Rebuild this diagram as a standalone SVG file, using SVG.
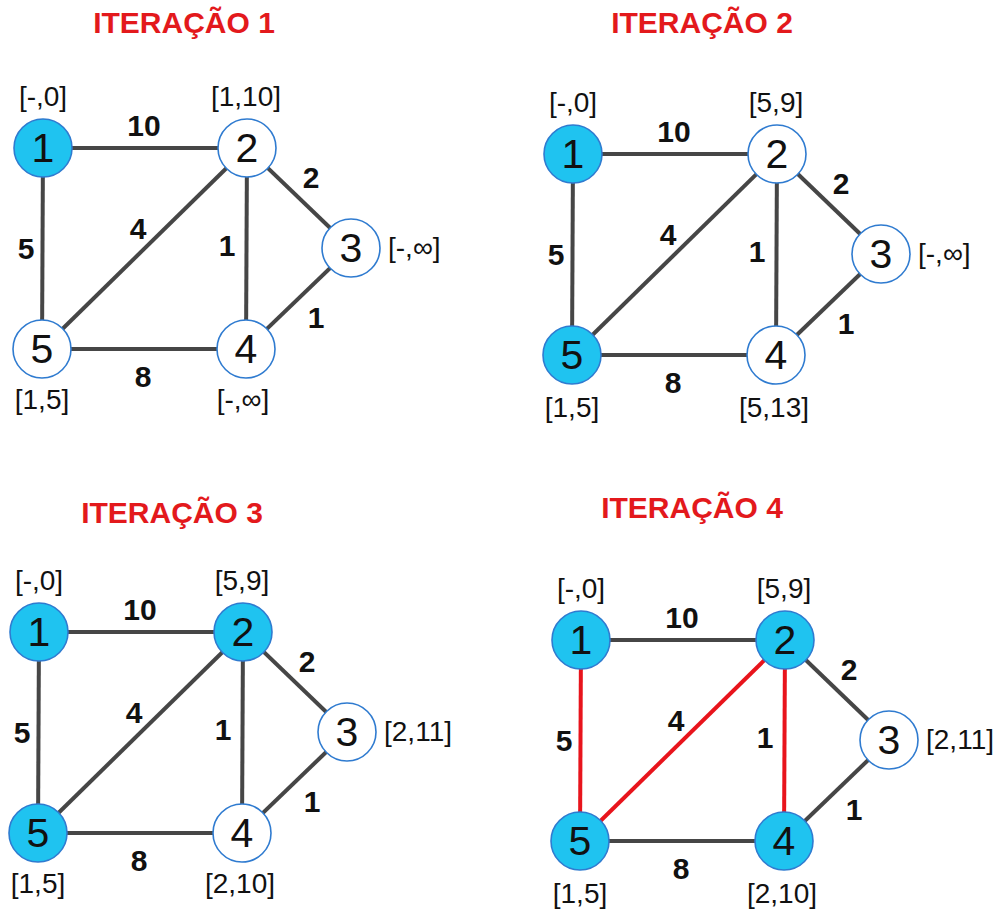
<svg xmlns="http://www.w3.org/2000/svg" width="1003" height="911" viewBox="0 0 1003 911">
<style>
.bg{fill:#ffffff}
.title{font-family:"Liberation Sans",Arial,sans-serif;font-weight:bold;font-size:30px;fill:#e3191c;text-anchor:middle}
.e{stroke:#464646;stroke-width:4;stroke-linecap:butt}
.r{stroke:#e8141c;stroke-width:4}
text.w{font-family:"Liberation Sans",Arial,sans-serif;font-weight:bold;font-size:30px;fill:#111;text-anchor:middle}
.n{stroke:#2f7bd0;stroke-width:1.6;fill:#ffffff}
.f{fill:#1fc3f0}
.num{font-family:"Liberation Sans",Arial,sans-serif;font-size:41px;fill:#111;text-anchor:middle}
.lb{font-family:"Liberation Sans",Arial,sans-serif;font-size:28px;fill:#111;text-anchor:middle}
.ls{text-anchor:start}
</style>
<rect class="bg" x="0" y="0" width="1003" height="911"/>

<text class="title" x="184" y="33">ITERAÇÃO 1</text>
<text class="title" x="702" y="33">ITERAÇÃO 2</text>
<text class="title" x="172" y="523">ITERAÇÃO 3</text>
<text class="title" x="692" y="518">ITERAÇÃO 4</text>

<!-- Iteration 1 -->
<g id="it1">
<g id="it1-edges">
<line class="e" x1="43" y1="148" x2="247" y2="148"/>
<line class="e" x1="43" y1="148" x2="42" y2="349"/>
<line class="e" x1="42" y1="349" x2="247" y2="148"/>
<line class="e" x1="247" y1="148" x2="246" y2="349"/>
<line class="e" x1="247" y1="148" x2="351" y2="248"/>
<line class="e" x1="351" y1="248" x2="246" y2="349"/>
<line class="e" x1="42" y1="349" x2="246" y2="349"/>
<text class="w" x="144" y="136">10</text>
<text class="w" x="311" y="188">2</text>
<text class="w" x="138" y="239">4</text>
<text class="w" x="227" y="256">1</text>
<text class="w" x="26" y="259">5</text>
<text class="w" x="316" y="328">1</text>
<text class="w" x="143" y="387">8</text>
</g>
<g id="it1-n1"><circle class="n f" cx="43" cy="148" r="29"/><text class="num" x="43" y="162">1</text><text class="lb" x="43" y="106">[-,0]</text></g>
<g id="it1-n2"><circle class="n" cx="247" cy="148" r="29"/><text class="num" x="247" y="162">2</text><text class="lb" x="246" y="106">[1,10]</text></g>
<g id="it1-n3"><circle class="n" cx="351" cy="248" r="29"/><text class="num" x="351" y="262">3</text><text class="lb ls" x="388" y="257">[-,∞]</text></g>
<g id="it1-n4"><circle class="n" cx="246" cy="349" r="29"/><text class="num" x="246" y="363">4</text><text class="lb" x="243" y="409">[-,∞]</text></g>
<g id="it1-n5"><circle class="n" cx="42" cy="349" r="29"/><text class="num" x="42" y="363">5</text><text class="lb" x="42" y="409">[1,5]</text></g>
</g>

<!-- Iteration 2 -->
<g id="it2" transform="translate(530,6)">
<g id="it2-edges">
<line class="e" x1="43" y1="148" x2="247" y2="148"/>
<line class="e" x1="43" y1="148" x2="42" y2="349"/>
<line class="e" x1="42" y1="349" x2="247" y2="148"/>
<line class="e" x1="247" y1="148" x2="246" y2="349"/>
<line class="e" x1="247" y1="148" x2="351" y2="248"/>
<line class="e" x1="351" y1="248" x2="246" y2="349"/>
<line class="e" x1="42" y1="349" x2="246" y2="349"/>
<text class="w" x="144" y="136">10</text>
<text class="w" x="311" y="188">2</text>
<text class="w" x="138" y="239">4</text>
<text class="w" x="227" y="256">1</text>
<text class="w" x="26" y="259">5</text>
<text class="w" x="316" y="328">1</text>
<text class="w" x="143" y="387">8</text>
</g>
<g id="it2-n1"><circle class="n f" cx="43" cy="148" r="29"/><text class="num" x="43" y="162">1</text><text class="lb" x="43" y="106">[-,0]</text></g>
<g id="it2-n2"><circle class="n" cx="247" cy="148" r="29"/><text class="num" x="247" y="162">2</text><text class="lb" x="246" y="106">[5,9]</text></g>
<g id="it2-n3"><circle class="n" cx="351" cy="248" r="29"/><text class="num" x="351" y="262">3</text><text class="lb ls" x="388" y="257">[-,∞]</text></g>
<g id="it2-n4"><circle class="n" cx="246" cy="349" r="29"/><text class="num" x="246" y="363">4</text><text class="lb" x="244" y="411">[5,13]</text></g>
<g id="it2-n5"><circle class="n f" cx="42" cy="349" r="29"/><text class="num" x="42" y="363">5</text><text class="lb" x="42" y="411">[1,5]</text></g>
</g>

<!-- Iteration 3 -->
<g id="it3" transform="translate(-4,484)">
<g id="it3-edges">
<line class="e" x1="43" y1="148" x2="247" y2="148"/>
<line class="e" x1="43" y1="148" x2="42" y2="349"/>
<line class="e" x1="42" y1="349" x2="247" y2="148"/>
<line class="e" x1="247" y1="148" x2="246" y2="349"/>
<line class="e" x1="247" y1="148" x2="351" y2="248"/>
<line class="e" x1="351" y1="248" x2="246" y2="349"/>
<line class="e" x1="42" y1="349" x2="246" y2="349"/>
<text class="w" x="144" y="136">10</text>
<text class="w" x="311" y="188">2</text>
<text class="w" x="138" y="239">4</text>
<text class="w" x="227" y="256">1</text>
<text class="w" x="26" y="259">5</text>
<text class="w" x="316" y="328">1</text>
<text class="w" x="143" y="387">8</text>
</g>
<g id="it3-n1"><circle class="n f" cx="43" cy="148" r="29"/><text class="num" x="43" y="162">1</text><text class="lb" x="43" y="106">[-,0]</text></g>
<g id="it3-n2"><circle class="n f" cx="247" cy="148" r="29"/><text class="num" x="247" y="162">2</text><text class="lb" x="246" y="106">[5,9]</text></g>
<g id="it3-n3"><circle class="n" cx="351" cy="248" r="29"/><text class="num" x="351" y="262">3</text><text class="lb ls" x="388" y="257">[2,11]</text></g>
<g id="it3-n4"><circle class="n" cx="246" cy="349" r="29"/><text class="num" x="246" y="363">4</text><text class="lb" x="244" y="409">[2,10]</text></g>
<g id="it3-n5"><circle class="n f" cx="42" cy="349" r="29"/><text class="num" x="42" y="363">5</text><text class="lb" x="42" y="409">[1,5]</text></g>
</g>

<!-- Iteration 4 -->
<g id="it4" transform="translate(538,492)">
<g id="it4-edges">
<line class="e" x1="43" y1="148" x2="247" y2="148"/>
<line class="e r" x1="43" y1="148" x2="42" y2="349"/>
<line class="e r" x1="42" y1="349" x2="247" y2="148"/>
<line class="e r" x1="247" y1="148" x2="246" y2="349"/>
<line class="e" x1="247" y1="148" x2="351" y2="248"/>
<line class="e" x1="351" y1="248" x2="246" y2="349"/>
<line class="e" x1="42" y1="349" x2="246" y2="349"/>
<text class="w" x="144" y="136">10</text>
<text class="w" x="311" y="188">2</text>
<text class="w" x="138" y="239">4</text>
<text class="w" x="227" y="256">1</text>
<text class="w" x="26" y="259">5</text>
<text class="w" x="316" y="328">1</text>
<text class="w" x="143" y="387">8</text>
</g>
<g id="it4-n1"><circle class="n f" cx="43" cy="148" r="29"/><text class="num" x="43" y="162">1</text><text class="lb" x="43" y="106">[-,0]</text></g>
<g id="it4-n2"><circle class="n f" cx="247" cy="148" r="29"/><text class="num" x="247" y="162">2</text><text class="lb" x="246" y="106">[5,9]</text></g>
<g id="it4-n3"><circle class="n" cx="351" cy="248" r="29"/><text class="num" x="351" y="262">3</text><text class="lb ls" x="388" y="257">[2,11]</text></g>
<g id="it4-n4"><circle class="n f" cx="246" cy="349" r="29"/><text class="num" x="246" y="363">4</text><text class="lb" x="244" y="411">[2,10]</text></g>
<g id="it4-n5"><circle class="n f" cx="42" cy="349" r="29"/><text class="num" x="42" y="363">5</text><text class="lb" x="42" y="411">[1,5]</text></g>
</g>
</svg>
